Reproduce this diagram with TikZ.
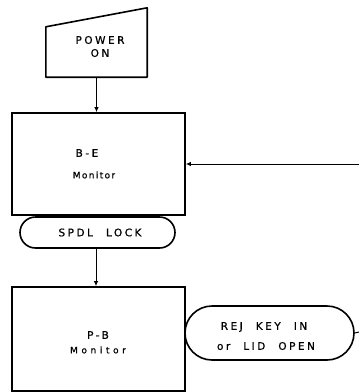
\documentclass[tikz,border=0pt]{standalone}
\usepackage{fontspec}
\setmainfont{DejaVu Sans}[LetterSpace=24,FakeBold=0.7]
\newcommand{\wsp}{\hspace{13pt}}
\usetikzlibrary{arrows.meta,shapes.misc,calc}
\begin{document}
\begin{tikzpicture}[x=1pt,y=-1pt,
  box/.style={draw,line width=1.6pt,minimum width=173pt,inner sep=0pt},
  term/.style={draw,line width=1.6pt,rounded rectangle,inner sep=0pt},
  lbl/.style={font=\fontsize{10.5}{11}\selectfont},
  sml/.style={font=\fontsize{9}{10}\selectfont\addfontfeature{LetterSpace=15}},
  smlw/.style={font=\fontsize{9}{10}\selectfont\addfontfeature{LetterSpace=40}},
  conn/.style={line width=1pt,-{Latex[length=5pt,width=4.5pt]}},
  plain/.style={line width=1pt}]
\useasboundingbox (0,0) rectangle (359,392);
% Power on
\node[minimum width=101pt,minimum height=69pt,inner sep=0pt] (pwr) at (96.5,42.5) {};
\draw[line width=1.6pt,line join=round] (pwr.south west) -- (pwr.south east) -- (pwr.north east) -- ($(pwr.north west)+(0,19)$) -- cycle;
\node[lbl] (pwrt) at (100,40) {POWER};
\node[lbl] (pwrb) at (100,53) {ON};
% B-E monitor
\node[box,minimum height=102pt] (be) at (98.5,164) {};
\node[lbl] (bet) at (87,153) {B-E};
\node[sml] (beb) at (94,175) {Monitor};
% SPDL LOCK
\node[term,minimum width=155pt,minimum height=31pt] (spdl) at (97.5,232.5) {};
\node[lbl] (spdlt) at (100,232.5) {SPDL\wsp LOCK};
% P-B monitor
\node[box,minimum height=104pt] (pb) at (98.5,339) {};
\node[lbl] (pbt) at (98,335) {P-B};
\node[smlw] (pbb) at (98,350) {Monitor};
% REJ KEY
\node[term,minimum width=169pt,minimum height=54pt] (rej) at (269.5,333) {};
\node[lbl] (rejt) at (264,327) {REJ\wsp KEY\wsp IN};
\node[lbl] (rejb) at (266,346) {or\wsp LID\wsp OPEN};
% connectors
\coordinate (inr) at (359,164);
\coordinate (outr) at (359,332);
\draw[conn] (pwr.south) -- (pwr.south |- be.north);
\draw[conn] (spdl.south -| 96,0) -- (96,0 |- pb.north);
\draw[conn] (inr) -- (be.east);
\draw[plain] (rej.east) -- (outr);
\end{tikzpicture}
\end{document}
